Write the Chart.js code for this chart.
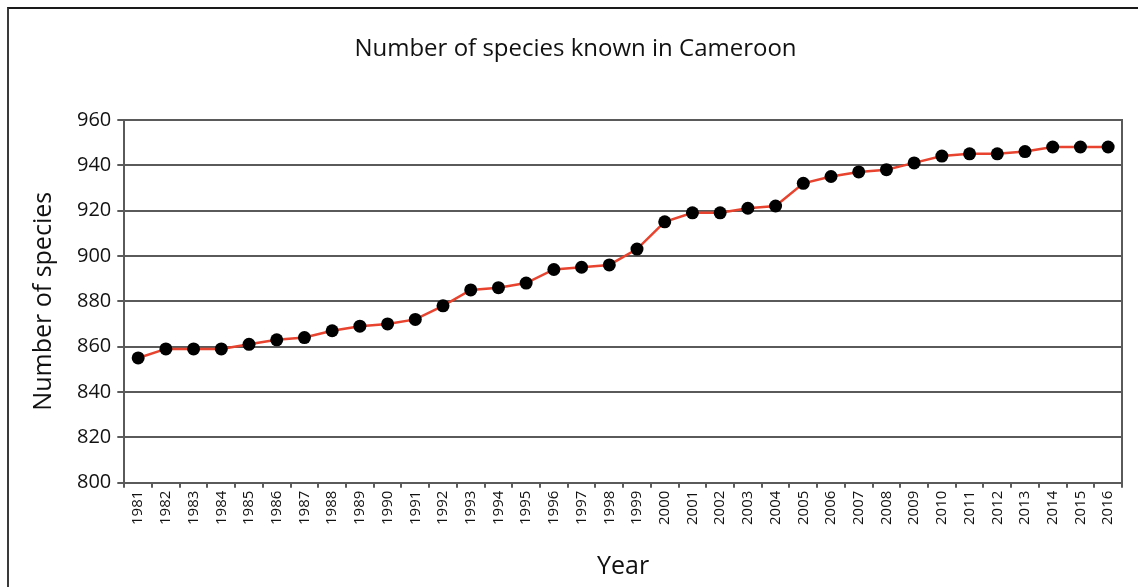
<!DOCTYPE html>
<html>
<head>
<meta charset="utf-8">
<script src="https://cdn.jsdelivr.net/npm/chart.js@4.4.1/dist/chart.umd.min.js"></script>
<style>
  html, body { margin: 0; padding: 0; background: #fff; }
  body { width: 1138px; height: 587px; position: relative; overflow: hidden; }
  #frame { position: absolute; left: 7px; top: 7px; width: 1200px; height: 700px;
           border-top: 2px solid #1a1a1a; border-left: 2px solid #3a3a3a; box-sizing: border-box; }
  #wrap { position: absolute; left: 0; top: 0; width: 1138px; height: 587px; }
</style>
</head>
<body>
<div id="frame"></div>
<div id="wrap"><canvas id="c" width="1138" height="587"></canvas></div>
<script>
// Known species counts per year
const years = ['1981','1982','1983','1984','1985','1986','1987','1988','1989','1990',
  '1991','1992','1993','1994','1995','1996','1997','1998','1999','2000',
  '2001','2002','2003','2004','2005','2006','2007','2008','2009','2010',
  '2011','2012','2013','2014','2015','2016'];
const species = [855, 859, 859, 859, 861, 863, 864, 867, 869, 870,
  872, 878, 885, 886, 888, 894, 895, 896, 903, 915,
  919, 919, 921, 922, 932, 935, 937, 938, 941, 944,
  945, 945, 946, 948, 948, 948];
const yMin = 800, yMax = 960, yStep = 20;

const font = "'Open Sans', 'DejaVu Sans', sans-serif";
const gridCol = '#5a5a5a';

new Chart(document.getElementById('c'), {
  type: 'line',
  data: {
    labels: years,
    datasets: [{
      data: species,
      borderColor: '#e8432e',
      borderWidth: 2.5,
      pointBackgroundColor: '#000',
      pointBorderColor: '#000',
      pointRadius: 6.5,
      pointBorderWidth: 0,
      tension: 0
    }]
  },
  options: {
    responsive: false,
    animation: false,
    devicePixelRatio: 1,
    layout: { padding: { left: 29, right: 16, top: 0, bottom: 5 } },
    plugins: {
      legend: { display: false },
      tooltip: { enabled: false },
      title: {
        display: true,
        text: 'Number of species known in Cameroon',
        color: '#111',
        font: { family: font, size: 24, weight: 'normal' },
        padding: { top: 35, bottom: 56 }
      }
    },
    scales: {
      x: {
        offset: true,
        grid: { offset: true, drawOnChartArea: false, drawTicks: true, tickLength: 5, color: gridCol, lineWidth: 2 },
        border: { color: gridCol, width: 2 },
        ticks: { color: '#111', font: { family: font, size: 15 }, minRotation: 90, maxRotation: 90, autoSkip: false, padding: 3 },
        title: { display: true, text: 'Year', color: '#111', font: { family: font, size: 25 }, padding: { top: 24, bottom: 0 } }
      },
      y: {
        min: yMin, max: yMax,
        grid: { color: gridCol, lineWidth: 2, tickLength: 7 },
        border: { color: gridCol, width: 2 },
        ticks: { stepSize: yStep, color: '#111', font: { family: font, size: 20 }, padding: 6 },
        title: { display: true, text: 'Number of species', color: '#111', font: { family: font, size: 25 }, padding: { top: 0, bottom: 12 } }
      },
      yRight: {
        position: 'right',
        min: yMin, max: yMax,
        grid: { drawOnChartArea: false, drawTicks: false },
        border: { color: gridCol, width: 2 },
        ticks: { display: false }
      }
    }
  }
});
</script>
</body>
</html>
